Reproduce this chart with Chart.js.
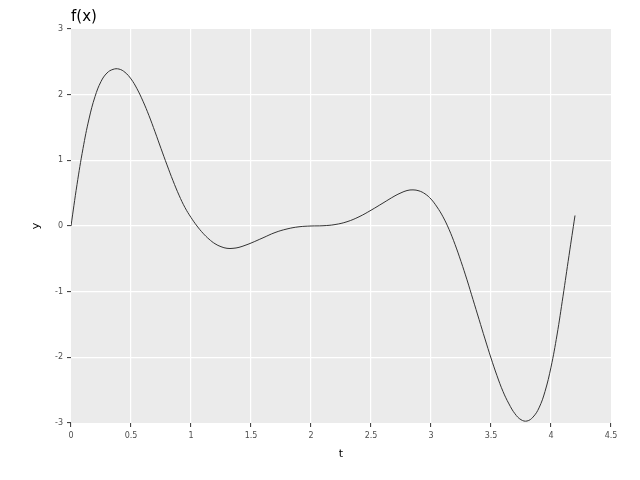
<!DOCTYPE html>
<html>
<head>
<meta charset="utf-8">
<script src="https://cdn.jsdelivr.net/npm/chart.js@4/dist/chart.umd.min.js"></script>
<style>
  html, body { margin: 0; padding: 0; background: #fff; }
</style>
</head>
<body>
<canvas id="chart" width="640" height="480"></canvas>
<script>
// values
const tValues = [
  0, 0.05, 0.1, 0.15, 0.2, 0.25, 0.3, 0.35, 0.4, 0.45,
  0.5, 0.55, 0.6, 0.65, 0.7, 0.75, 0.8, 0.85, 0.9, 0.95,
  1.0, 1.05, 1.1, 1.15, 1.2, 1.25, 1.3, 1.35, 1.4, 1.45,
  1.5, 1.6, 1.7, 1.8, 1.9, 2.0, 2.1, 2.2, 2.3, 2.4,
  2.5, 2.6, 2.7, 2.75, 2.8, 2.85, 2.9, 2.95, 3.0, 3.05,
  3.1, 3.15, 3.2, 3.25, 3.3, 3.35, 3.4, 3.45, 3.5, 3.55,
  3.6, 3.65, 3.7, 3.75, 3.8, 3.85, 3.9, 3.95, 4.0, 4.05,
  4.1, 4.15, 4.2
];
const fValues = [
  0, 0.63, 1.18, 1.63, 1.97, 2.2, 2.33, 2.385, 2.39, 2.34,
  2.24, 2.09, 1.9, 1.68, 1.435, 1.18, 0.93, 0.69, 0.47, 0.28,
  0.13, 0, -0.11, -0.2, -0.27, -0.315, -0.34, -0.34, -0.325, -0.295,
  -0.26, -0.18, -0.1, -0.045, -0.012, 0, 0.004, 0.022, 0.065, 0.14,
  0.24, 0.35, 0.46, 0.505, 0.54, 0.55, 0.535, 0.49, 0.41, 0.29,
  0.14, -0.05, -0.28, -0.54, -0.82, -1.12, -1.42, -1.72, -2.01, -2.28,
  -2.52, -2.71, -2.86, -2.95, -2.97, -2.91, -2.77, -2.52, -2.15, -1.66,
  -1.07, -0.45, 0.16
];
const xTicks = [0, 0.5, 1, 1.5, 2, 2.5, 3, 3.5, 4, 4.5];
const yTicks = [-3, -2, -1, 0, 1, 2, 3];

const chartTitle = 'f(x)';
const xLabel = 't';
const yLabel = 'y';

const FONT = "'DejaVu Sans', sans-serif";

// grey panel behind the plot, ggplot style
const panelBackground = {
  id: 'panelBackground',
  beforeDraw(chart) {
    const { ctx, chartArea: a } = chart;
    ctx.save();
    ctx.fillStyle = '#ebebeb';
    ctx.fillRect(a.left, a.top, a.right - a.left, a.bottom - a.top);
    ctx.restore();
  }
};

// title sits on the left edge of the panel
const leftTitle = {
  id: 'leftTitle',
  afterDraw(chart) {
    const { ctx, chartArea: a } = chart;
    ctx.save();
    ctx.fillStyle = '#000';
    ctx.font = '15px ' + FONT;
    ctx.textAlign = 'left';
    ctx.textBaseline = 'alphabetic';
    ctx.fillText(chartTitle, a.left, 21);
    ctx.restore();
  }
};

function gridColor(c) {
  const n = c.scale.ticks.length;
  return (c.index === 0 || c.index === n - 1) ? 'rgba(255,255,255,0)' : '#ffffff';
}

const points = tValues.map((t, i) => ({ x: t, y: fValues[i] }));

new Chart(document.getElementById('chart'), {
  type: 'line',
  data: {
    datasets: [{
      data: points,
      borderColor: '#333333',
      borderWidth: 1,
      pointRadius: 0,
      fill: false,
      tension: 0.4
    }]
  },
  options: {
    responsive: false,
    animation: false,
    layout: { padding: { top: 29, right: 29, left: 0, bottom: 0 } },
    plugins: {
      legend: { display: false },
      tooltip: { enabled: false },
      title: { display: false }
    },
    scales: {
      x: {
        type: 'linear',
        position: 'bottom',
        min: 0,
        max: 4.5,
        afterBuildTicks: s => { s.ticks = xTicks.map(v => ({ value: v })); },
        afterFit: s => { s.height = 57; },
        border: { display: false },
        grid: {
          color: gridColor,
          lineWidth: 1.2,
          tickColor: '#333333',
          tickWidth: 1,
          tickLength: 4
        },
        ticks: {
          color: '#4d4d4d',
          font: { family: FONT, size: 8 },
          padding: 4,
          maxRotation: 0,
          autoSkip: false,
          callback: v => String(v)
        },
        title: {
          display: true,
          text: xLabel,
          color: '#000',
          font: { family: FONT, size: 11 },
          padding: { top: 0, bottom: 19 }
        }
      },
      y: {
        type: 'linear',
        position: 'left',
        min: -3,
        max: 3,
        afterBuildTicks: s => { s.ticks = yTicks.map(v => ({ value: v })); },
        afterFit: s => { s.width = 71; },
        border: { display: false },
        grid: {
          color: gridColor,
          lineWidth: 1.2,
          tickColor: '#333333',
          tickWidth: 1,
          tickLength: 4
        },
        ticks: {
          color: '#4d4d4d',
          font: { family: FONT, size: 8 },
          padding: 4,
          autoSkip: false,
          callback: v => String(v)
        },
        title: {
          display: true,
          text: yLabel,
          color: '#000',
          font: { family: FONT, size: 11 },
          padding: { top: 30, bottom: 0 }
        }
      }
    }
  },
  plugins: [panelBackground, leftTitle]
});
</script>
</body>
</html>
